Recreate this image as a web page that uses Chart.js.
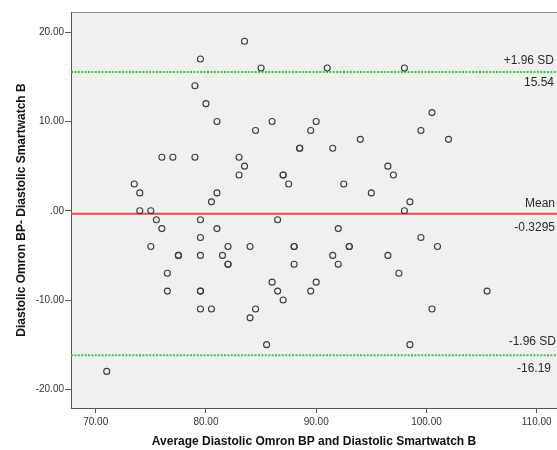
<!DOCTYPE html>
<html><head><meta charset="utf-8">
<script src="https://cdn.jsdelivr.net/npm/chart.js@4/dist/chart.umd.min.js"></script>
<style>html,body{margin:0;padding:0;background:#fff}#wrap{width:557px;height:450px}</style>
</head><body><div id="wrap"><canvas id="c" width="557" height="450"></canvas></div>
<script>
// Average of the two measurements (x) and their difference (y)
const averages = [
  79.5,79,80,81,76,77,79,73.5,74,74,75,81,80.5,
  83.5,85,91,86,84.5,90,89.5,88.5,88.5,91.5,94,83,83.5,83,87,87,87.5,92.5,95,96.5,97,
  98,100.5,99.5,102,98.5,98,
  75.5,76,79.5,81,79.5,75,82,77.5,77.5,79.5,81.5,82,82,76.5,76.5,79.5,79.5,79.5,80.5,71,
  86.5,92,84,88,88,93,93,91.5,96.5,88,92,86,90,86.5,89.5,87,84.5,84,85.5,
  99.5,101,97.5,105.5,100.5,98.5
];
const differences = [
  17,14,12,10,6,6,6,3,2,0,0,2,1,
  19,16,16,10,9,10,9,7,7,7,8,6,5,4,4,4,3,3,2,5,4,
  16,11,9,8,1,0,
  -1,-2,-1,-2,-3,-4,-4,-5,-5,-5,-5,-6,-6,-7,-9,-9,-9,-11,-11,-18,
  -1,-2,-4,-4,-4,-4,-4,-5,-5,-6,-6,-8,-8,-9,-9,-10,-11,-12,-15,
  -3,-4,-7,-9,-11,-15
];
const meanDiff = -0.3295;
const upperLimit = 15.54;
const lowerLimit = -16.19;
const refLabels = ['+1.96 SD', 'Mean', '-1.96 SD'];
const refValues = [upperLimit, meanDiff, lowerLimit];
const refValueTexts = ['15.54', '-0.3295', '-16.19'];
const xTicks = [70, 80, 90, 100, 110];
const yTicks = [20, 10, 0, -10, -20];
const xRange = [67.76, 111.84];
const yRange = [-22.1, 22.27];
const xTitle = 'Average Diastolic Omron BP and Diastolic Smartwatch B';
const yTitle = 'Diastolic Omron BP- Diastolic Smartwatch B';

const FONT = '"Liberation Sans", Arial, sans-serif';
const points = averages.map((a, i) => ({x: a, y: differences[i]}));
const refLine = v => [{x: xRange[0], y: v}, {x: xRange[1], y: v}];
const fmt = v => v === 0 ? '.00' : v.toFixed(2);

const bgPlugin = {
  id: 'bg',
  beforeDraw(chart) {
    const {ctx, chartArea: a} = chart;
    ctx.save();
    ctx.fillStyle = '#f0f0f0';
    ctx.fillRect(a.left, a.top, a.right - a.left, a.bottom - a.top);
    ctx.strokeStyle = '#8a8a8a';
    ctx.lineWidth = 1;
    ctx.beginPath();
    ctx.moveTo(a.left, a.top + 0.5);
    ctx.lineTo(a.right, a.top + 0.5);
    ctx.stroke();
    ctx.restore();
  }
};
const labelPlugin = {
  id: 'reflabels',
  afterDatasetsDraw(chart) {
    const {ctx, chartArea: a, scales: {y}} = chart;
    const above = [-11, -10.5, -14];
    const below = [11, 14, 13];
    const rightAbove = [3, 2, 1];
    const rightBelow = [3, 2, 6];
    ctx.save();
    ctx.font = '12px ' + FONT;
    ctx.fillStyle = '#2a2a2a';
    ctx.textAlign = 'right';
    ctx.textBaseline = 'middle';
    refValues.forEach((v, i) => {
      const py = y.getPixelForValue(v);
      ctx.fillText(refLabels[i], a.right - rightAbove[i], py + above[i]);
      ctx.fillText(refValueTexts[i], a.right - rightBelow[i], py + below[i]);
    });
    ctx.restore();
  }
};

new Chart(document.getElementById('c'), {
  type: 'scatter',
  data: {
    datasets: [
      {type: 'line', data: refLine(upperLimit), borderColor: '#33cc33', borderWidth: 2,
       borderDash: [2, 1.4], pointRadius: 0, fill: false, order: 2},
      {type: 'line', data: refLine(lowerLimit), borderColor: '#33cc33', borderWidth: 2,
       borderDash: [2, 1.4], pointRadius: 0, fill: false, order: 2},
      {type: 'line', data: refLine(meanDiff), borderColor: '#ea4b4b', borderWidth: 2,
       pointRadius: 0, fill: false, order: 2},
      {data: points, pointStyle: 'circle', pointRadius: 3, pointBorderWidth: 1.1,
       pointBorderColor: '#3a3a3a', pointBackgroundColor: 'rgba(0,0,0,0)', order: 1}
    ]
  },
  options: {
    responsive: false,
    animation: false,
    devicePixelRatio: 1,
    layout: {autoPadding: false, padding: {top: 12, right: 0, left: 0, bottom: 0}},
    plugins: {legend: {display: false}, tooltip: {enabled: false}},
    scales: {
      x: {
        type: 'linear', min: xRange[0], max: xRange[1],
        afterBuildTicks: s => { s.ticks = xTicks.map(v => ({value: v})); },
        afterFit: s => { s.height = 42; s.paddingLeft = 0; s.paddingRight = 0; },
        grid: {drawOnChartArea: false, drawTicks: true, tickLength: 5, color: '#555', tickWidth: 1},
        border: {display: true, color: '#555', width: 1},
        ticks: {callback: v => fmt(v), font: {size: 10, family: FONT}, color: '#333', padding: 3, maxRotation: 0, autoSkip: false},
        title: {display: true, text: xTitle, font: {size: 12, weight: 'bold', family: FONT}, color: '#111', padding: {top: 0, bottom: 1}}
      },
      y: {
        type: 'linear', min: yRange[0], max: yRange[1],
        afterBuildTicks: s => { s.ticks = yTicks.map(v => ({value: v})); },
        afterFit: s => { s.width = 71; s.paddingTop = 0; s.paddingBottom = 0; },
        grid: {drawOnChartArea: false, drawTicks: true, tickLength: 6, color: '#555', tickWidth: 1},
        border: {display: true, color: '#555', width: 1},
        ticks: {callback: v => fmt(v), font: {size: 10, family: FONT}, color: '#333', padding: 1, autoSkip: false},
        title: {display: true, text: yTitle, font: {size: 12, weight: 'bold', family: FONT}, color: '#111', padding: {top: 14, bottom: 0}}
      }
    }
  },
  plugins: [bgPlugin, labelPlugin]
});
</script>
</body></html>
